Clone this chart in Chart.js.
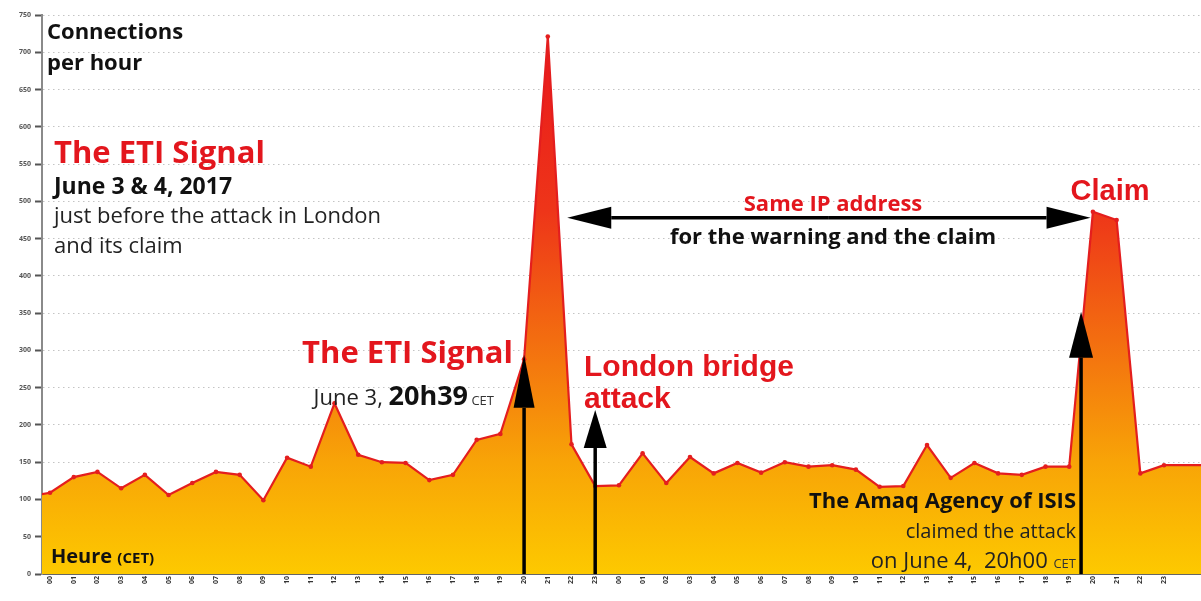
<!DOCTYPE html>
<html>
<head>
<meta charset="utf-8">
<script src="https://cdn.jsdelivr.net/npm/chart.js@4.4.0/dist/chart.umd.min.js"></script>
<style>
html, body { margin: 0; padding: 0; background: #fff; }
#wrap { width: 1201px; height: 601px; position: relative; }
</style>
</head>
<body>
<div id="wrap"><canvas id="eti-chart"></canvas></div>
<script>
// Hours (CET), June 3 then June 4
const hourLabels = ["00","01","02","03","04","05","06","07","08","09","10","11",
                    "12","13","14","15","16","17","18","19","20","21","22","23",
                    "00","01","02","03","04","05","06","07","08","09","10","11",
                    "12","13","14","15","16","17","18","19","20","21","22","23"];
// Connections per hour
const connections = [109,130,137,115,133,106,122,137,133,99,156,144,
                     229,160,150,149,126,133,180,188,288,721,174,118,
                     119,162,122,157,135,149,136,150,144,146,140,117,
                     118,173,129,149,135,133,144,144,486,475,135,146];
// hour before the first label and after the last one (cut by the frame)
const hourBefore = 104;
const hourAfter = 146;
const yTicks = [0,50,100,150,200,250,300,350,400,450,500,550,600,650,700,750];

let points = [{x: -1, y: hourBefore}];
connections.forEach((v, i) => points.push({x: i, y: v}));
points.push({x: hourLabels.length + 1, y: hourAfter});

const RED = "#e3161d";
const SANS = "'Open Sans', sans-serif";
const ARIAL = "'Liberation Sans', Arial, sans-serif";

// writes several pieces of text one after the other on the same line
let drawRuns = (ctx, runs, x, y, align) => {
    let total = 0;
    runs.forEach(r => { ctx.font = r[1]; total += ctx.measureText(r[0]).width; });
    let cx = align == "right" ? x - total : (align == "center" ? x - total / 2 : x);
    ctx.textAlign = "left";
    ctx.textBaseline = "alphabetic";
    runs.forEach(r => {
        ctx.font = r[1];
        ctx.fillStyle = r[2];
        ctx.fillText(r[0], cx, y);
        cx += ctx.measureText(r[0]).width;
    });
};

let drawArrow = (ctx, x1, y1, x2, y2, headLen, headW) => {
    let ang = Math.atan2(y2 - y1, x2 - x1);
    let bx = x2 - Math.cos(ang) * headLen;
    let by = y2 - Math.sin(ang) * headLen;
    ctx.strokeStyle = "#000";
    ctx.fillStyle = "#000";
    ctx.lineWidth = 3.5;
    ctx.beginPath();
    ctx.moveTo(x1, y1);
    ctx.lineTo(bx, by);
    ctx.stroke();
    ctx.beginPath();
    ctx.moveTo(x2, y2);
    ctx.lineTo(bx - Math.sin(ang) * headW / 2, by + Math.cos(ang) * headW / 2);
    ctx.lineTo(bx + Math.sin(ang) * headW / 2, by - Math.cos(ang) * headW / 2);
    ctx.closePath();
    ctx.fill();
};

const notes = {
    id: "notes",
    afterDatasetsDraw(chart) {
        const ctx = chart.ctx;
        const x = chart.scales.x, y = chart.scales.y;
        ctx.save();

        // arrows
        drawArrow(ctx, x.getPixelForValue(20), y.getPixelForValue(0), x.getPixelForValue(20), y.getPixelForValue(294), 53, 21);
        drawArrow(ctx, x.getPixelForValue(23), y.getPixelForValue(0), x.getPixelForValue(23), y.getPixelForValue(220), 38, 23);
        drawArrow(ctx, x.getPixelForValue(43.5), y.getPixelForValue(0), x.getPixelForValue(43.5), y.getPixelForValue(352), 46, 24);
        let ya = y.getPixelForValue(478);
        let xl = x.getPixelForValue(21.82), xr = x.getPixelForValue(43.9);
        let xm = (xl + xr) / 2;
        drawArrow(ctx, xm, ya, xl, ya, 44, 22);
        drawArrow(ctx, xm, ya, xr, ya, 44, 22);

        // texts
        drawRuns(ctx, [["Connections", "bold 22px " + SANS, "#111"]], 47, 39, "left");
        drawRuns(ctx, [["per hour", "bold 22px " + SANS, "#111"]], 47, 70, "left");

        drawRuns(ctx, [["The ETI Signal", "bold 31px " + SANS, RED]], 54, 163, "left");
        drawRuns(ctx, [["June 3 & 4, 2017", "bold 23px " + SANS, "#111"]], 54, 194, "left");
        drawRuns(ctx, [["just before the attack in London", "22px " + SANS, "#222"]], 54, 223, "left");
        drawRuns(ctx, [["and its claim", "22px " + SANS, "#222"]], 54, 253, "left");

        drawRuns(ctx, [["The ETI Signal", "bold 31px " + SANS, RED]], 513, 363, "right");
        drawRuns(ctx, [["June 3, ", "22px " + SANS, "#222"], ["20h39", "bold 27px " + SANS, "#111"], [" CET", "13px " + SANS, "#333"]], 494, 405, "right");

        drawRuns(ctx, [["London bridge", "bold 30px " + ARIAL, RED]], 584, 376, "left");
        drawRuns(ctx, [["attack", "bold 30px " + ARIAL, RED]], 584, 408, "left");

        drawRuns(ctx, [["Same IP address", "bold 22px " + SANS, RED]], 833, 211, "center");
        drawRuns(ctx, [["for the warning and the claim", "bold 22px " + SANS, "#111"]], 833, 244, "center");

        drawRuns(ctx, [["Claim", "bold 29px " + ARIAL, RED]], 1110, 200, "center");

        drawRuns(ctx, [["The Amaq Agency of ISIS", "bold 22px " + SANS, "#111"]], 1076, 508, "right");
        drawRuns(ctx, [["claimed the attack", "20px " + SANS, "#222"]], 1076, 538, "right");
        drawRuns(ctx, [["on June 4,  20h00 ", "22px " + SANS, "#222"], ["CET", "13px " + SANS, "#333"]], 1076, 568, "right");

        drawRuns(ctx, [["Heure ", "bold 20px " + SANS, "#111"], ["(CET)", "bold 15px " + SANS, "#111"]], 51, 563, "left");

        ctx.restore();
    }
};

let fillGradient = (context) => {
    const area = context.chart.chartArea;
    if (!area) return "#f7a400";
    const g = context.chart.ctx.createLinearGradient(0, area.top, 0, area.bottom);
    g.addColorStop(0, "#e8141c");
    g.addColorStop(0.35, "#ee3519");
    g.addColorStop(0.58, "#f36d10");
    g.addColorStop(0.8, "#f8a407");
    g.addColorStop(1, "#fdc900");
    return g;
};

new Chart(document.querySelector("#eti-chart"), {
    type: "line",
    data: {
        datasets: [{
            label: "Connections per hour",
            data: points,
            borderColor: "#e41e1e",
            borderWidth: 2.2,
            backgroundColor: fillGradient,
            fill: "origin",
            tension: 0,
            pointRadius: ctx => (ctx.raw && (ctx.raw.x < 0 || ctx.raw.x >= hourLabels.length)) ? 0 : 2.3,
            pointBackgroundColor: "#e41e1e",
            pointBorderWidth: 0
        }]
    },
    options: {
        responsive: true,
        maintainAspectRatio: false,
        animation: false,
        layout: { padding: { top: 15, right: 0, bottom: 0, left: 0 } },
        plugins: {
            legend: { display: false },
            tooltip: { enabled: false }
        },
        scales: {
            x: {
                type: "linear",
                min: -0.34,
                max: 48.56,
                afterBuildTicks: s => { s.ticks = hourLabels.map((l, i) => ({ value: i })); },
                afterFit: s => { s.height = 27; },
                ticks: {
                    autoSkip: false,
                    minRotation: 90,
                    maxRotation: 90,
                    padding: 2,
                    color: "#333",
                    font: { size: 7, weight: "bold", family: SANS },
                    callback: (v, i) => hourLabels[i]
                },
                grid: { display: false, drawTicks: false },
                border: { display: true, color: "#666", width: 2 }
            },
            y: {
                min: 0,
                max: 750,
                afterBuildTicks: s => { s.ticks = yTicks.map(v => ({ value: v })); },
                afterFit: s => { s.width = 42; },
                ticks: {
                    color: "#555",
                    padding: 4,
                    font: { size: 7, weight: "bold", family: SANS }
                },
                grid: {
                    color: "#c4c4c4",
                    lineWidth: 1,
                    tickLength: 7,
                    tickColor: "#555",
                    tickWidth: 2,
                    tickBorderDash: [],
                    drawOnChartArea: true
                },
                border: { display: true, color: "#8a8a8a", width: 2, dash: [1.5, 3.5] }
            }
        }
    },
    plugins: [notes]
});
</script>
</body>
</html>
